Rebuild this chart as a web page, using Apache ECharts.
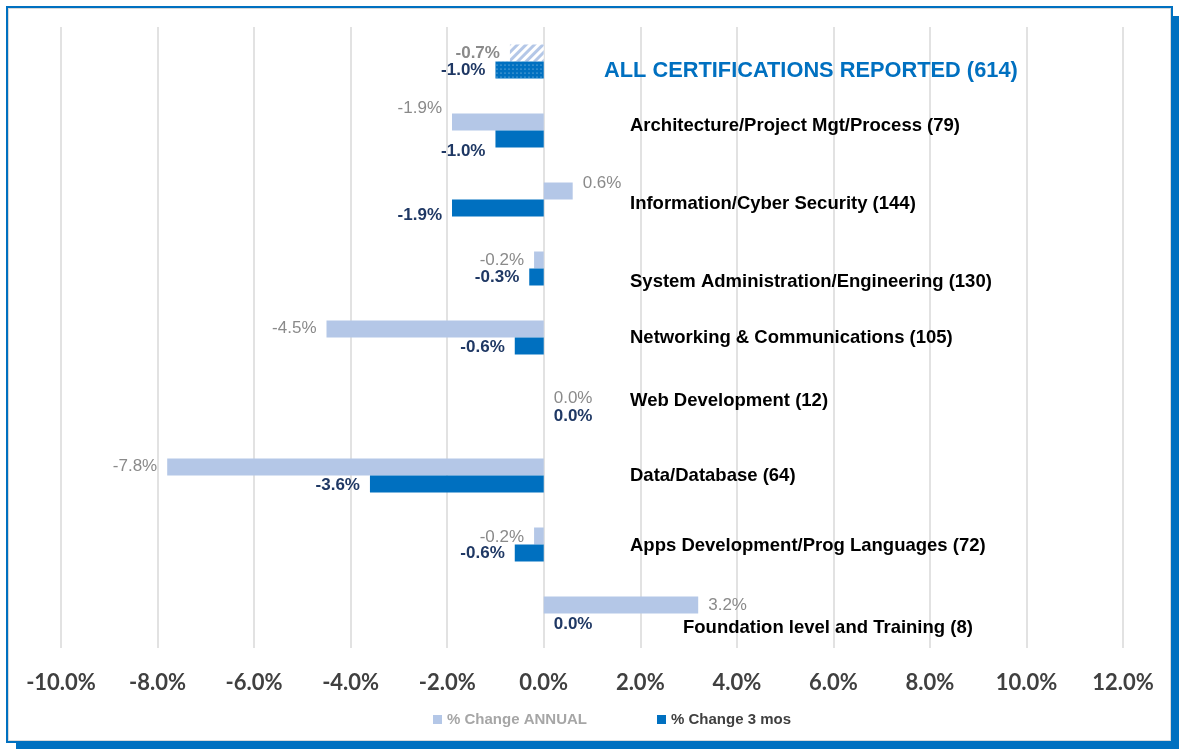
<!DOCTYPE html>
<html>
<head>
<meta charset="utf-8">
<script src="https://cdn.jsdelivr.net/npm/echarts@6/dist/echarts.min.js"></script>
<style>
  html, body { margin: 0; padding: 0; background: #fff; }
  .frame {
    position: absolute; left: 6px; top: 6px; width: 1163px; height: 733px;
    border: 2px solid #0070c0;
    box-shadow: inset 0 0 0 1px #d9d9d9, 10px 10px 0 #0070c0;
    background: #fff;
  }
  #chart { position: absolute; left: 0; top: 0; width: 1179px; height: 749px; }
</style>
</head>
<body>
<div class="frame"></div>
<div id="chart"></div>
<script>
const categories = [
  "ALL CERTIFICATIONS REPORTED (614)",
  "Architecture/Project Mgt/Process (79)",
  "Information/Cyber Security (144)",
  "System Administration/Engineering (130)",
  "Networking & Communications (105)",
  "Web Development (12)",
  "Data/Database (64)",
  "Apps Development/Prog Languages (72)",
  "Foundation level and Training (8)",
];
const annual = [-0.7, -1.9, 0.6, -0.2, -4.5, 0.0, -7.8, -0.2, 3.2];
const threeMos = [-1.0, -1.0, -1.9, -0.3, -0.6, 0.0, -3.6, -0.6, 0.0];
const xTicks = [-10, 12, 2];

// label nudges (px), per category, as placed in the original
const annualLabelDy = [0, -14, -8, 0, -1, 0, -1, 1, 0];
const threeLabelDy = [0, 12, 7, 0, 1, 1, 1, 0, 2];
// category name nudges: [dx, dy]
const catNudge = [[0, 9], [26, -5], [26, 4], [26, 13], [26, 0], [26, -6], [26, 0], [26, 1], [79, 14]];

const chart = echarts.init(document.getElementById("chart"));

function barData(values, dys, opts) {
  return values.map((v, i) => {
    const item = {
      value: v,
      label: {
        position: v < 0 ? "left" : "right",
        offset: [0, dys[i]],
      },
    };
    if (i === 0) {
      item.itemStyle = opts.firstStyle;
      if (opts.firstLabelBold) item.label.fontWeight = "bold";
    }
    return item;
  });
}

const rich = {};
catNudge.forEach(([dx, dy], i) => {
  rich["c" + i] = {
    fontFamily: "Liberation Sans, Arial",
    fontWeight: "bold",
    fontSize: i === 0 ? 21.8 : 18.5,
    color: i === 0 ? "#0070c0" : "#000",
    padding: [dy > 0 ? dy * 2 : 0, 0, dy < 0 ? -dy * 2 : 0, dx],
  };
});

chart.setOption({
  animation: false,
  grid: { left: 61, right: 56, top: 27, bottom: 101 },
  legend: {
    left: 428, top: 707,
    itemWidth: 9, itemHeight: 9, itemGap: 70,
    icon: "rect",
    textStyle: { fontFamily: "Liberation Sans, Arial", fontWeight: "bold", fontSize: 15 },
    data: [
      { name: "% Change ANNUAL", textStyle: { color: "#a6a6a6" } },
      { name: "% Change 3 mos", textStyle: { color: "#404040" } },
    ],
  },
  xAxis: {
    type: "value",
    min: xTicks[0], max: xTicks[1], interval: xTicks[2],
    axisLine: { show: false },
    axisTick: { show: false },
    splitLine: { lineStyle: { color: "#d9d9d9", width: 1.5 } },
    axisLabel: {
      margin: 24,
      color: "#404040",
      fontFamily: "Lato",
      fontWeight: "bold",
      fontSize: 22,
      formatter: (v) => v.toFixed(1) + "%",
    },
  },
  yAxis: {
    type: "category",
    inverse: true,
    data: categories,
    axisLine: { show: false, onZero: false },
    axisTick: { show: false },
    axisLabel: {
      inside: true,
      interval: 0,
      margin: 543,
      formatter: (v, i) => "{c" + i + "|" + v + "}",
      rich: rich,
    },
  },
  series: [
    {
      name: "% Change ANNUAL",
      type: "bar",
      barWidth: 17,
      barGap: "0%",
      itemStyle: { color: "#b4c7e7" },
      label: {
        show: true, distance: 10,
        color: "#8a8a8a",
        fontFamily: "Liberation Sans, Arial",
        fontSize: 17,
        formatter: (p) => p.value.toFixed(1) + "%",
      },
      data: barData(annual, annualLabelDy, {
        firstLabelBold: true,
        firstStyle: {
          color: "#ffffff",
          decal: {
            symbol: "rect", symbolSize: 1, color: "#b4c7e7",
            dashArrayX: [1, 0], dashArrayY: [3, 3], rotation: -Math.PI / 4,
          },
        },
      }),
    },
    {
      name: "% Change 3 mos",
      type: "bar",
      barWidth: 17,
      barGap: "0%",
      itemStyle: { color: "#0070c0" },
      label: {
        show: true, distance: 10,
        color: "#1f3864",
        fontFamily: "Liberation Sans, Arial",
        fontWeight: "bold",
        fontSize: 17,
        formatter: (p) => p.value.toFixed(1) + "%",
      },
      data: barData(threeMos, threeLabelDy, {
        firstStyle: {
          color: "#0070c0",
          decal: {
            symbol: "circle", symbolSize: 0.6, color: "rgba(255,255,255,0.7)",
            dashArrayX: [[2, 2]], dashArrayY: [2, 2],
          },
        },
      }),
    },
  ],
});
</script>
</body>
</html>
